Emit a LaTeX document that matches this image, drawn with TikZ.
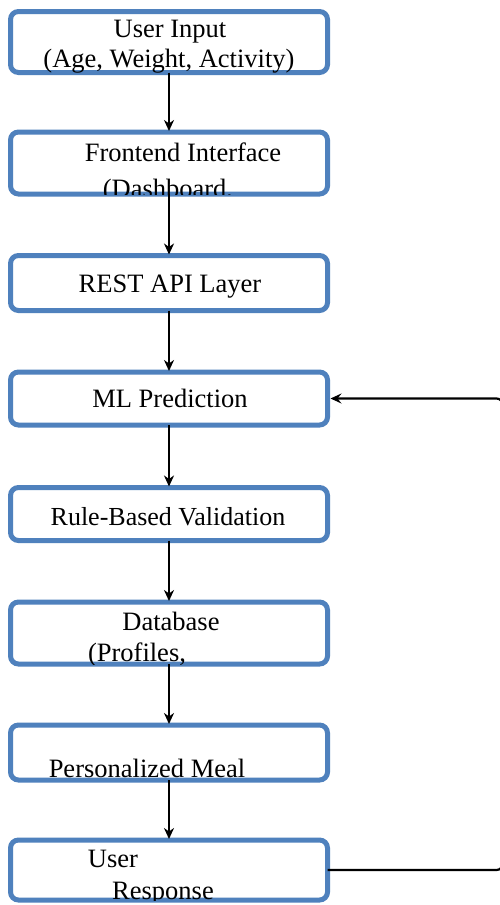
\documentclass[tikz,border=0pt]{standalone}
\usepackage{fontspec}
\setmainfont{Liberation Serif}
\usetikzlibrary{arrows.meta}
\definecolor{boxblue}{RGB}{79,129,189}
\begin{document}
\begin{tikzpicture}[x=1pt,y=-1pt,
  stepbox/.style={draw=boxblue, line width=5pt, rounded corners=8pt, fill=white,
    minimum width=317pt, inner sep=0pt, outer sep=0pt},
  caption/.style={anchor=base, inner sep=0pt, font=\fontsize{26.5}{30}\selectfont},
  flow/.style={line width=2.2pt, -{Stealth[length=11pt,width=10pt,inset=3.5pt]}, shorten >=1pt},
  loopline/.style={line width=2.2pt, rounded corners=6pt,
    -{Stealth[length=11pt,width=10pt,inset=4pt]}, shorten >=3pt},
]
% page frame
\fill[white] (0,0) rectangle (500,905);
\useasboundingbox (0,0) rectangle (500,905);

% process boxes
\node[stepbox, minimum height=61pt] (b1) at (169,42)    {};
\node[stepbox, minimum height=62pt] (b2) at (169,163)   {};
\node[stepbox, minimum height=55pt] (b3) at (169,283)   {};
\node[stepbox, minimum height=53pt] (b4) at (169,398.5) {};
\node[stepbox, minimum height=53pt] (b5) at (169,514)   {};
\node[stepbox, minimum height=62pt] (b6) at (169,633)   {};
\node[stepbox, minimum height=55pt] (b7) at (169,752.5) {};
\node[stepbox, minimum height=60pt] (b8) at (169,870)   {};

% box texts, cut off at the lower border
\begin{scope}
  \clip (b1.north west) rectangle (b1.south east);
  \node[caption] (t1a) at (170,37) {User Input};
  \node[caption] (t1b) at (169,67) {(Age, Weight, Activity)};
\end{scope}
\begin{scope}
  \clip (b2.north west) rectangle (b2.south east);
  \node[caption] (t2a) at (183,161) {Frontend Interface};
  \node[caption] (t2b) at (168,197) {(Dashboard,};
\end{scope}
\node[caption] (t3) at (170,292) {REST API Layer};
\node[caption] (t4) at (170,407) {ML Prediction};
\node[caption, font=\fontsize{26}{30}\selectfont] (t5) at (168,525) {Rule-Based Validation};
\begin{scope}
  \clip (b6.north west) rectangle (b6.south east);
  \node[caption] (t6a) at (171,630) {Database};
  \node[caption] (t6b) at (137,661) {(Profiles,};
\end{scope}
\begin{scope}
  \clip (b7.north west) rectangle (b7.south east);
  \node[caption] (t7) at (147,777) {Personalized Meal};
\end{scope}
\begin{scope}
  \clip (b8.north west) rectangle (b8.south east);
  \node[caption] (t8a) at (113,867) {User};
  \node[caption] (t8b) at (163,899) {Response};
\end{scope}

% main flow
\draw[flow] (b1.south) -- (b2.north);
\draw[flow] (b2.south) -- (b3.north);
\draw[flow] (b3.south) -- (b4.north);
\draw[flow] (b4.south) -- (b5.north);
\draw[flow] (b5.south) -- (b6.north);
\draw[flow] (b6.south) -- (b7.north);
\draw[flow] (b7.south) -- (b8.north);

% feedback loop back to the prediction step (its upright runs just past the page edge)
\coordinate (rt) at (502.5,0);
\draw[loopline] (b8.east) -- (b8.east -| rt) -- (b4.east -| rt) -- (b4.east);
\end{tikzpicture}
\end{document}
